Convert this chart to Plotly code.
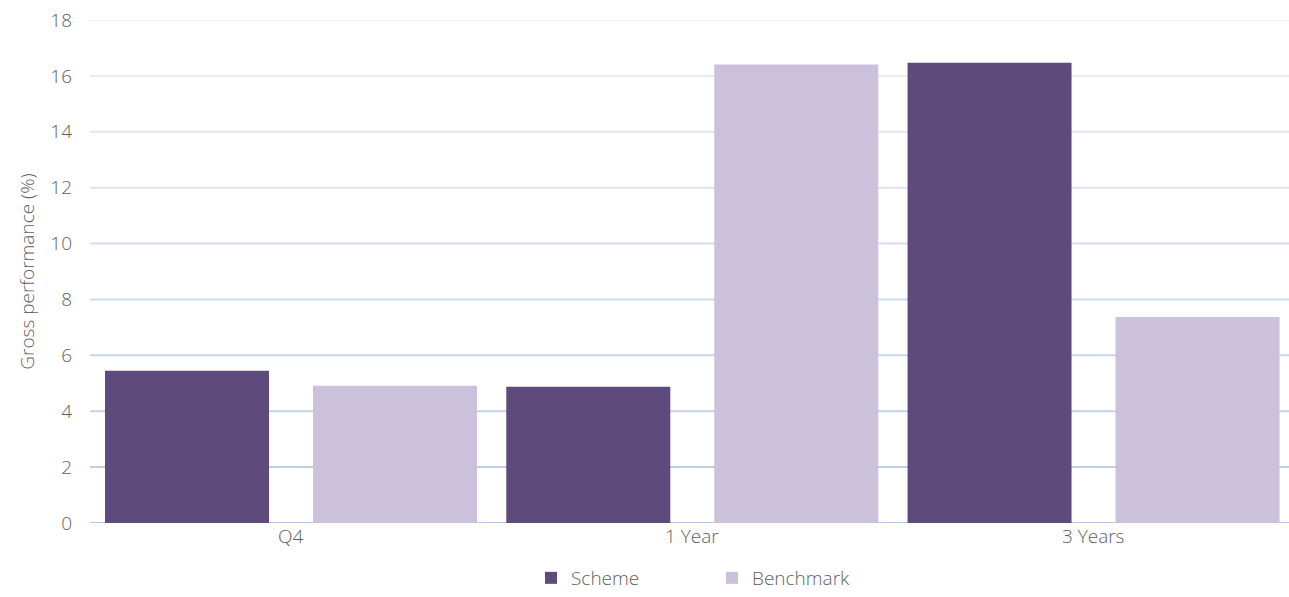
import plotly.graph_objects as go

categories = ["Q4", "1 Year", "3 Years"]
scheme = [5.45, 4.88, 16.47]
benchmark = [4.91, 16.41, 7.37]
y_ticks = [0, 2, 4, 6, 8, 10, 12, 14, 16, 18]

SCHEME_COLOR = "#5f4b7b"
BENCH_COLOR = "#cbc1db"
TEXT = "#5f5f5f"
FONT = "Open Sans"

BAR_W = 0.4087
fig = go.Figure()
fig.add_bar(name="Scheme", x=categories, y=scheme, marker_color=SCHEME_COLOR,
            marker_line_width=0, width=BAR_W, offset=-0.4626)
fig.add_bar(name="Benchmark", x=categories, y=benchmark, marker_color=BENCH_COLOR,
            marker_line_width=0, width=BAR_W, offset=0.0557)

# gradient gridlines: darker near the bottom, lighter at the top
def grid_color(v):
    t = v / 18.0
    c0 = (184, 201, 226)
    c1 = (236, 241, 248)
    r, g, b = (round(a + (bb - a) * t) for a, bb in zip(c0, c1))
    return f"rgb({r},{g},{b})"

shapes = []
for v in y_ticks:
    shapes.append(dict(type="line", xref="paper", yref="y", x0=0, x1=1, y0=v, y1=v,
                       line=dict(color=grid_color(v), width=2), layer="below"))
fig.update_layout(shapes=shapes)

fig.update_layout(
    width=1289, height=597,
    margin=dict(l=90, r=0, t=20, b=72),
    barmode="overlay",
    plot_bgcolor="white", paper_bgcolor="white",
    font=dict(family=FONT, color=TEXT, size=19, weight=300),
    showlegend=True,
    legend=dict(orientation="h", x=(531 - 90) / 1199, xanchor="left", y=-0.072, yanchor="top",
                font=dict(size=19, color=TEXT, weight=300),
                traceorder="normal", entrywidth=136, entrywidthmode="pixels"),
    xaxis=dict(range=[-0.5, 2.488], showgrid=False, showline=False, ticks="",
               tickfont=dict(size=19, color=TEXT, weight=300)),
    yaxis=dict(range=[0, 18], tickvals=y_ticks, showgrid=False, zeroline=False,
               ticks="", tickfont=dict(size=19, color=TEXT, weight=300), ticklabelstandoff=17,
               title=dict(text="Gross performance (%)", font=dict(size=19, color=TEXT, weight=300),
                          standoff=10)),
)

fig.write_html("out.html")
